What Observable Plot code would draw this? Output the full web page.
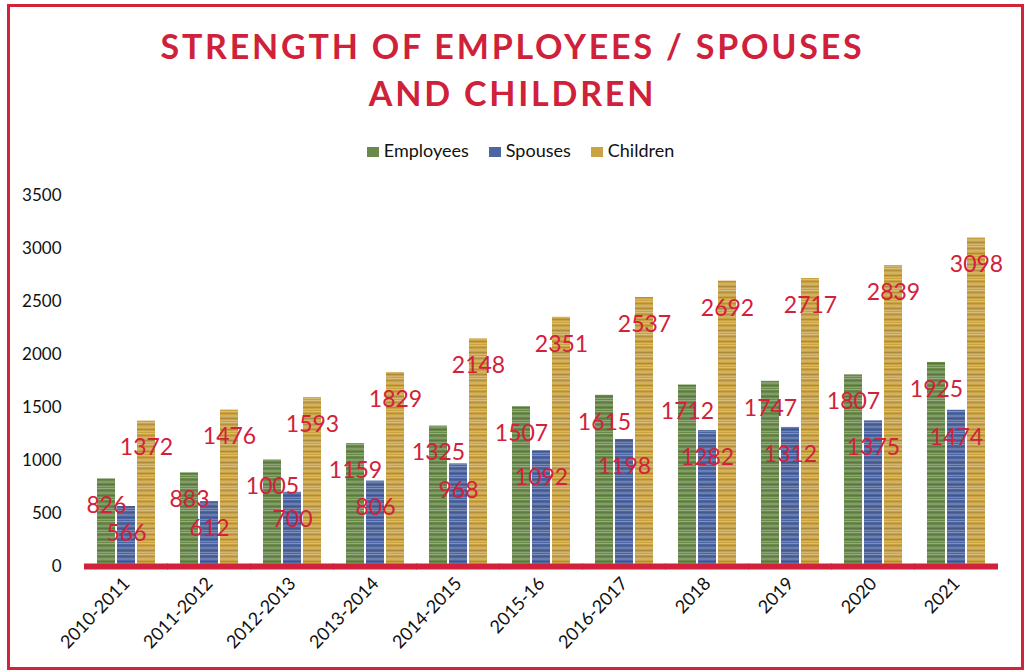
<!DOCTYPE html>
<html>
<head>
<meta charset="utf-8">
<script src="https://cdn.jsdelivr.net/npm/d3@7"></script>
<script src="https://cdn.jsdelivr.net/npm/@observablehq/plot@0.6"></script>
<style>
  html, body { margin: 0; padding: 0; background: #ffffff; }
  #wrap { position: relative; width: 1025px; height: 671px; overflow: hidden; font-family: Lato, "Open Sans", sans-serif; }
  #border { position: absolute; left: 7px; top: 4px; width: 1011px; height: 660px; border: 3px solid #d2233a; }
  #title { position: absolute; left: 0; top: 22px; width: 1025px; text-align: center; color: #d0213a; font-weight: 700; font-size: 34px; letter-spacing: 2.8px; line-height: 47px; }
  #legend { position: absolute; left: 8px; top: 139px; width: 1025px; text-align: center; font-size: 18px; color: #111; }
  #legend span.item { display: inline-block; margin: 0 10px; }
  #legend span.sw { display: inline-block; width: 12px; height: 10px; margin-right: 5px; vertical-align: 0px; }
  #chart { position: absolute; left: 0; top: 180px; }
</style>
</head>
<body>
<div id="wrap">
  <div id="border"></div>
  <div id="title">STRENGTH OF EMPLOYEES / SPOUSES<br>AND CHILDREN</div>
  <div id="legend"></div>
  <div id="chart"></div>
</div>
<script>
const years = ["2010-2011","2011-2012","2012-2013","2013-2014","2014-2015","2015-16","2016-2017","2018","2019","2020","2021"];
const seriesNames = ["Employees","Spouses","Children"];
const seriesColors = ["#6a8a4b","#4d65a0","#c9a244"];
const employees = [826,883,1005,1159,1325,1507,1615,1712,1747,1807,1925];
const spouses = [566,612,700,806,968,1092,1198,1282,1312,1375,1474];
const children = [1372,1476,1593,1829,2148,2351,2537,2692,2717,2839,3098];
const yTicks = [0,500,1000,1500,2000,2500,3000,3500];

const seriesValues = [employees, spouses, children];
const data = [];
years.forEach((yr, i) => {
  seriesNames.forEach((s, j) => data.push({year: yr, series: s, value: seriesValues[j][i]}));
});

const red = "#d2213a";

const chart = Plot.plot({
  width: 1025,
  height: 491,
  marginTop: 15,
  marginBottom: 105,
  marginLeft: 80,
  marginRight: 23,
  style: {fontFamily: "Lato, 'Open Sans', sans-serif", background: "transparent", color: "#111"},
  fx: {domain: years, paddingInner: 0.3, paddingOuter: 0.15, label: null, axis: null},
  x: {domain: seriesNames, paddingInner: 0.12, paddingOuter: 0, axis: null},
  y: {domain: [0, 3500], label: null, axis: null},
  color: {domain: seriesNames, range: seriesColors},
  marks: [
    Plot.axisY({ticks: yTicks, tickSize: 0, tickPadding: 18, dx: -18, fontSize: 17, label: null, tickFormat: d => String(d)}),
    Plot.axisFx({anchor: "bottom", tickRotate: -46, tickSize: 0, tickPadding: 14, fontSize: 18, label: null}),
    Plot.barY(data, {fx: "year", x: "series", y: "value", fill: "series"}),
    Plot.barY(data, {fx: "year", x: "series", y: "value", fill: "url(#stripes)"}),
    Plot.text(data, {fx: "year", x: "series", y: "value", text: d => String(d.value), dy: 27, fill: red, fontSize: 23}),
    Plot.ruleY([0], {stroke: red, strokeWidth: 6, insetLeft: -13, insetRight: -13})
  ]
});

// horizontal stripe texture for the bars
const svg = d3.select(chart);
const defs = svg.insert("defs", ":first-child");
const pat = defs.append("pattern").attr("id", "stripes").attr("patternUnits", "userSpaceOnUse")
  .attr("width", 40).attr("height", 11);
const stripeRows = [
  {y: 0, h: 1, c: "#ffffff", o: 0.28},
  {y: 2, h: 1, c: "#000000", o: 0.10},
  {y: 4, h: 2, c: "#ffffff", o: 0.16},
  {y: 7, h: 1, c: "#000000", o: 0.14},
  {y: 9, h: 1, c: "#ffffff", o: 0.22}
];
stripeRows.forEach(r => pat.append("rect").attr("x", 0).attr("y", r.y).attr("width", 40).attr("height", r.h)
  .attr("fill", r.c).attr("fill-opacity", r.o));

document.getElementById("chart").appendChild(chart);

const legend = document.getElementById("legend");
seriesNames.forEach((s, i) => {
  const item = document.createElement("span");
  item.className = "item";
  const sw = document.createElement("span");
  sw.className = "sw";
  sw.style.background = seriesColors[i];
  item.appendChild(sw);
  item.appendChild(document.createTextNode(s));
  legend.appendChild(item);
});
</script>
</body>
</html>
